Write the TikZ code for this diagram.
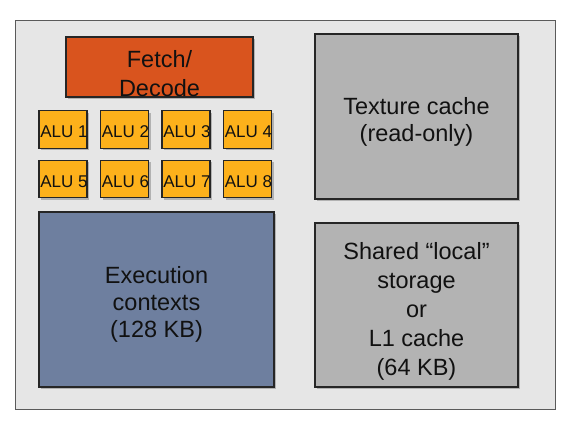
\documentclass[tikz,border=0pt]{standalone}
\usepackage{fontspec}
\setmainfont{Liberation Sans}
\usetikzlibrary{shadows}
\definecolor{outerfill}{HTML}{E6E6E6}
\definecolor{outerline}{HTML}{5A5A5A}
\definecolor{fetchfill}{HTML}{D9541E}
\definecolor{alufill}{HTML}{FDB11B}
\definecolor{execfill}{HTML}{6E7F9F}
\definecolor{cachefill}{HTML}{B3B3B3}
\definecolor{txt}{HTML}{111111}
\tikzset{
  blockbox/.style={draw=black!85, line width=1.1pt, inner sep=0pt,
    drop shadow={shadow xshift=2pt, shadow yshift=-2pt, fill=black!35, opacity=0.8}},
  bigtext/.style={font=\fontsize{23.5}{27}\selectfont, text=txt, align=center, inner sep=0pt},
  alutext/.style={font=\fontsize{17}{19}\selectfont, text=txt, inner sep=0pt},
}
\begin{document}
\begin{tikzpicture}[x=1pt,y=-1pt]
\useasboundingbox (0,0) rectangle (566,425);
\fill[white] (0,0) rectangle (566,425);
\node[draw=outerline, fill=outerfill, line width=0.9pt, minimum width=540pt, minimum height=389pt, inner sep=0pt] (core) at (285,214.5) {};
% Fetch/Decode
\node[blockbox, fill=fetchfill, minimum width=187pt, minimum height=60pt] (fetch) at (159.5,67) {};
\node[bigtext, font=\fontsize{23.5}{29}\selectfont] (fetchlbl) at (159.5,73.5) {Fetch/\\Decode};
% ALUs
\foreach \i/\x/\y in {1/63/129.5, 2/124.5/129.5, 3/186/129.5, 4/247.5/129.5,
                      5/63/179, 6/124.5/179, 7/186/179, 8/247.5/179} {
  \node[blockbox, fill=alufill, minimum width=48pt, minimum height=37.5pt] (alu\i) at (\x,\y) {};
  \node[alutext] (alulbl\i) at (\x+1,\y+2.6) {ALU \i};
}
% Execution contexts
\node[blockbox, fill=execfill, minimum width=235pt, minimum height=175pt] (exec) at (156.5,299.5) {};
\node[bigtext] (execlbl) at (156.5,304) {Execution\\contexts\\(128 KB)};
% Texture cache
\node[blockbox, fill=cachefill, minimum width=203pt, minimum height=165pt] (tex) at (416.5,116.5) {};
\node[bigtext] (texlbl) at (416.5,121.5) {Texture cache\\(read-only)};
% Shared local storage
\node[blockbox, fill=cachefill, minimum width=203pt, minimum height=164pt] (shared) at (416.5,305) {};
\node[bigtext, font=\fontsize{23.5}{29}\selectfont] (sharedlbl) at (416.5,311) {Shared “local”\\storage\\or\\L1 cache\\(64 KB)};
\end{tikzpicture}
\end{document}
